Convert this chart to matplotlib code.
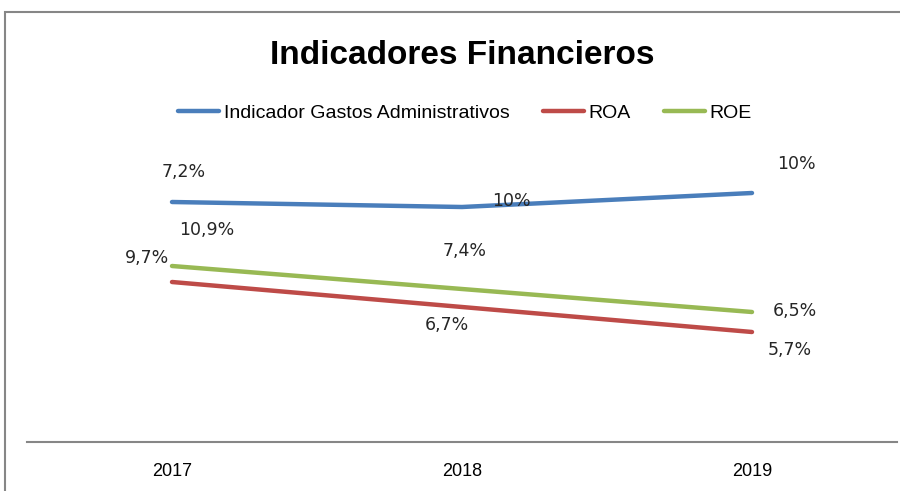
import matplotlib
matplotlib.use("Agg")
import matplotlib.pyplot as plt
from matplotlib.patches import Rectangle

years = ["2017", "2018", "2019"]
# line levels as drawn (hidden y axis, arbitrary units)
gastos = [12.0, 11.75, 12.45]
roa = [8.0, 6.75, 5.5]
roe = [8.8, 7.65, 6.5]

# data label texts as shown on the chart
gastos_lbl = ["7,2%", "10%", "10%"]
roa_lbl = ["10,9%", "6,7%", "5,7%"]
roe_lbl = ["9,7%", "7,4%", "6,5%"]

narrow = ["Liberation Sans Narrow", "Liberation Sans", "DejaVu Sans"]

fig = plt.figure(figsize=(9, 4.91), dpi=100)
fig.patches.append(Rectangle((5 / 900, -0.1), 1.2, 1 - 12 / 491 + 0.1,
                             transform=fig.transFigure, fill=False,
                             edgecolor="#868686", linewidth=1.5))

ax = fig.add_axes([27 / 900, 49 / 491, 870 / 900, 280 / 491])
x = range(len(years))
series = [
    (gastos, gastos_lbl, "#4A7EBB", "Indicador Gastos Administrativos",
     [(12, 30), (49, 6), (44, 29)]),
    (roa, roa_lbl, "#BE4B48", "ROA", [(35, 52), (-15, -18), (38, -18)]),
    (roe, roe_lbl, "#98B954", "ROE", [(-25, 8), (3, 38), (43, 1)]),
]
for vals, lbls, col, name, offs in series:
    ax.plot(x, vals, color=col, lw=3.2, solid_capstyle="round", label=name)
    for xi, v, t, (dx, dy) in zip(x, vals, lbls, offs):
        ax.annotate(t, (xi, v), xytext=(dx * 0.72, dy * 0.72),
                    textcoords="offset points", ha="center", va="center",
                    fontsize=12.5, color="#262626")

ax.set_xlim(-0.5, 2.5)
ax.set_ylim(0, 14)
ax.set_yticks([])
ax.set_xticks(list(x))
ax.set_xticklabels(years, fontsize=13, family=narrow)
ax.tick_params(axis="x", length=0, pad=15)
for s in ["top", "right", "left"]:
    ax.spines[s].set_visible(False)
ax.spines["bottom"].set_color("#868686")
ax.spines["bottom"].set_linewidth(1.5)

fig.text(462 / 900, 1 - 55 / 491, "Indicadores Financieros", ha="center",
         va="center", fontsize=24, fontweight="bold", family=narrow)
fig.legend(loc="center", bbox_to_anchor=(465 / 900, 1 - 113 / 491), ncol=3,
           frameon=False, prop={"family": narrow, "size": 14},
           handlelength=2.1, handletextpad=0.25, columnspacing=1.7)

fig.savefig("out.png", dpi=100)
